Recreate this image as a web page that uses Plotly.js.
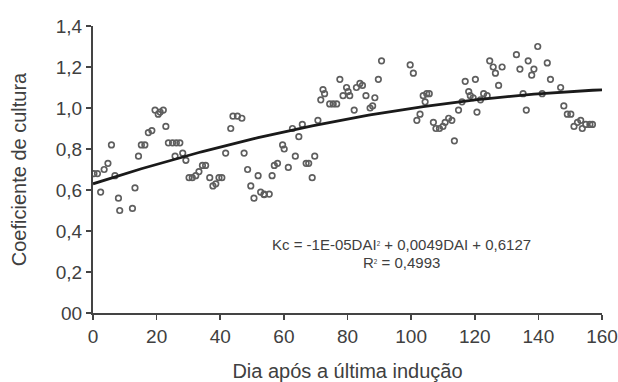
<!DOCTYPE html>
<html>
<head>
<meta charset="utf-8">
<script src="https://cdn.plot.ly/plotly-3.0.1.min.js"></script>
<style>html,body{margin:0;padding:0;background:#fff;}#chart{width:618px;height:382px;}</style>
</head>
<body>
<div id="chart"></div>
<script>
// Dia após a última indução (DAI)
const dai = [0.3,1.4,2.4,3.5,4.7,5.8,6.9,8.0,8.4,12.4,13.2,14.3,15.2,16.3,17.4,18.5,19.5,20.5,21.1,22.1,
  22.9,23.7,25.0,25.8,26.2,27.3,28.2,29.2,30.2,31.2,32.3,33.3,34.4,35.4,36.7,37.7,38.6,39.6,40.5,41.7,
  43.3,44.0,45.4,46.8,47.5,48.6,49.6,50.6,51.9,52.7,53.8,53.8,55.4,56.3,57.0,58.0,59.6,60.1,61.4,62.7,
  63.6,64.7,65.8,67.0,67.8,68.9,69.7,70.7,71.6,72.3,72.8,74.4,75.5,76.6,77.6,78.6,79.7,80.2,80.7,82.1,
  82.8,83.9,84.7,85.8,87.1,87.9,88.6,89.7,90.7,99.7,100.7,101.8,102.8,103.8,104.4,104.9,105.7,107.0,107.8,108.9,
  110.0,110.7,111.8,112.8,113.6,114.9,116.0,117.0,118.1,118.6,119.5,120.2,120.7,121.8,122.8,123.9,124.7,125.8,126.5,127.5,
  128.6,133.1,134.2,135.2,136.2,136.8,137.9,138.6,139.8,141.2,142.8,143.8,147.0,148.0,149.1,150.2,151.2,152.3,153.3,153.8,
  154.9,156.2,157.0];
// Coeficiente de cultura (Kc)
const kc = [0.68,0.68,0.59,0.70,0.73,0.82,0.67,0.56,0.50,0.51,0.61,0.765,0.82,0.82,0.88,0.89,0.99,0.97,0.98,0.99,
  0.91,0.83,0.83,0.765,0.83,0.83,0.78,0.745,0.66,0.66,0.67,0.69,0.72,0.72,0.66,0.62,0.63,0.66,0.66,0.78,
  0.90,0.96,0.96,0.95,0.78,0.70,0.62,0.56,0.67,0.59,0.58,0.577,0.58,0.67,0.72,0.73,0.82,0.80,0.71,0.90,
  0.765,0.86,0.92,0.73,0.73,0.66,0.765,0.94,1.04,1.09,1.07,1.02,1.02,1.02,1.14,1.06,1.10,1.08,1.06,0.99,
  1.10,1.12,1.11,1.06,1.00,1.01,1.05,1.14,1.23,1.21,1.17,0.94,0.97,1.06,1.03,1.07,1.07,0.93,0.90,0.90,
  0.91,0.93,0.95,0.94,0.84,0.99,1.03,1.13,1.08,1.06,1.05,1.14,0.98,1.04,1.07,1.06,1.23,1.20,1.17,1.11,
  1.20,1.26,1.19,1.07,0.99,1.23,1.16,1.19,1.30,1.07,1.22,1.14,1.10,1.01,0.97,0.97,0.91,0.93,0.94,0.90,
  0.92,0.92,0.92];
const xTicks = [0,20,40,60,80,100,120,140,160];
const yTicks = [0,0.2,0.4,0.6,0.8,1.0,1.2,1.4];
const yTickText = ["00","0,2","0,4","0,6","0,8","1,0","1,2","1,4"];
const eqText = "Kc = -1E-05DAI<span style=\"font-size:9px\"><sup>2</sup></span> + 0,0049DAI + 0,6127";
const r2Text = "R<span style=\"font-size:9px\"><sup>2</sup></span> = 0,4993";

// least-squares quadratic fit of the data (polynomial trendline)
function quadFit(xs, ys) {
  let S = [0,0,0,0,0], T = [0,0,0];
  for (let i = 0; i < xs.length; i++) {
    const x = xs[i], y = ys[i];
    let p = 1;
    for (let k = 0; k < 5; k++) { S[k] += p; if (k < 3) T[k] += p * y; p *= x; }
  }
  const A = [[S[0],S[1],S[2],T[0]],[S[1],S[2],S[3],T[1]],[S[2],S[3],S[4],T[2]]];
  for (let i = 0; i < 3; i++) {
    for (let j = i + 1; j < 3; j++) {
      const f = A[j][i] / A[i][i];
      for (let k = i; k < 4; k++) A[j][k] -= f * A[i][k];
    }
  }
  const c = [0,0,0];
  for (let i = 2; i >= 0; i--) {
    let s = A[i][3];
    for (let k = i + 1; k < 3; k++) s -= A[i][k] * c[k];
    c[i] = s / A[i][i];
  }
  return c; // c0 + c1 x + c2 x^2
}
const coef = quadFit(dai, kc);
const lineX = [xTicks[0]].concat(dai, [xTicks[xTicks.length - 1]]);
const lineY = lineX.map(x => coef[0] + coef[1] * x + coef[2] * x * x);

const fam = "Liberation Sans, Arial, sans-serif";
const txt = "#404040";

Plotly.newPlot("chart", [
  {x: dai, y: kc, mode: "markers", type: "scatter",
   marker: {symbol: "circle-open", size: 5.5, color: "#5e5e5e", line: {width: 1.7, color: "#5e5e5e"}},
   showlegend: false, hoverinfo: "skip"},
  {x: lineX, y: lineY, mode: "lines", type: "scatter", line: {color: "#1a1a1a", width: 2.8},
   showlegend: false, hoverinfo: "skip"}
], {
  width: 618, height: 382,
  margin: {l: 93, r: 16, t: 26, b: 69},
  paper_bgcolor: "#fff", plot_bgcolor: "#fff",
  font: {family: fam, color: txt, size: 19},
  xaxis: {range: [0, 160], tickvals: xTicks, ticks: "outside", ticklen: 5, tickwidth: 1.6, tickcolor: "#444",
    showline: true, linecolor: "#444", linewidth: 2, showgrid: false, zeroline: false, automargin: false,
    ticklabeloverflow: "allow",
    tickfont: {family: fam, color: txt, size: 19},
    title: {text: "Dia após a última indução", font: {family: fam, color: txt, size: 20}, standoff: 19}},
  yaxis: {range: [0, 1.4], tickvals: yTicks, ticktext: yTickText, ticks: "outside", ticklen: 5, tickwidth: 1.6,
    tickcolor: "#444", showline: true, linecolor: "#444", linewidth: 2, showgrid: false, zeroline: false,
    automargin: false,
    tickfont: {family: fam, color: txt, size: 19},
    title: {text: "Coeficiente de cultura", font: {family: fam, color: txt, size: 20}, standoff: 24}},
  annotations: [
    {x: 97, y: 0.335, xref: "x", yref: "y", text: eqText, showarrow: false, font: {family: fam, color: txt, size: 15}},
    {x: 97, y: 0.245, xref: "x", yref: "y", text: r2Text, showarrow: false, font: {family: fam, color: txt, size: 15}}
  ]
}, {staticPlot: true});
</script>
</body>
</html>
